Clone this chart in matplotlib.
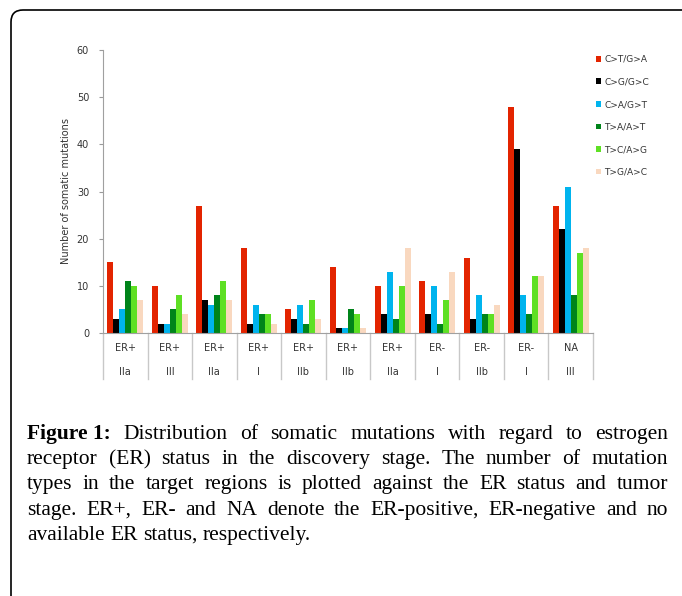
import numpy as np
import matplotlib
matplotlib.use("Agg")
import matplotlib.pyplot as plt
from matplotlib.patches import FancyBboxPatch
from matplotlib.transforms import blended_transform_factory

er_status = ["ER+", "ER+", "ER+", "ER+", "ER+", "ER+", "ER+", "ER-", "ER-", "ER-", "NA"]
stages = ["IIa", "III", "IIa", "I", "IIb", "IIb", "IIa", "I", "IIb", "I", "III"]

mutation_types = ["C>T/G>A", "C>G/G>C", "C>A/G>T", "T>A/A>T", "T>C/A>G", "T>G/A>C"]
ct_ga = [15, 10, 27, 18, 5, 14, 10, 11, 16, 48, 27]
cg_gc = [3, 2, 7, 2, 3, 1, 4, 4, 3, 39, 22]
ca_gt = [5, 2, 6, 6, 6, 1, 13, 10, 8, 8, 31]
ta_at = [11, 5, 8, 4, 2, 5, 3, 2, 4, 4, 8]
tc_ag = [10, 8, 11, 4, 7, 4, 10, 7, 4, 12, 17]
tg_ac = [7, 4, 7, 2, 3, 1, 18, 13, 6, 12, 18]

colors = ["#e32400", "#000000", "#00b4ee", "#00841a", "#5ee024", "#f9d8bf"]

caption_lines = [
    "Distribution of somatic mutations with regard to estrogen",
    "receptor (ER) status in the discovery stage. The number of mutation",
    "types in the target regions is plotted against the ER status and tumor",
    "stage. ER+, ER- and NA denote the ER-positive, ER-negative and no",
    "available ER status, respectively.",
]

W, H = 682, 596
fig = plt.figure(figsize=(W / 100, H / 100), dpi=100)

# rounded frame around the figure panel
frame = FancyBboxPatch((11 / 100, -0.5), 8, (H - 10) / 100 + 0.5,
                       boxstyle="round,pad=0,rounding_size=0.12",
                       transform=fig.dpi_scale_trans, fill=False,
                       edgecolor="black", linewidth=1.2)
fig.patches.append(frame)

ax = fig.add_axes([103 / W, (H - 333) / H, 490 / W, 283 / H])

series = [ct_ga, cg_gc, ca_gt, ta_at, tc_ag, tg_ac]
x = np.arange(len(er_status))
bw = 0.135
for i, (vals, c, name) in enumerate(zip(series, colors, mutation_types)):
    ax.bar(x + (i - 2.5) * bw, vals, bw, color=c, label=name, linewidth=0)

ax.set_xlim(-0.5, len(er_status) - 0.5)
ax.set_ylim(0, 60)
ax.set_yticks(range(0, 61, 10))
ax.tick_params(axis="y", labelsize=7, colors="#9a9a9a", labelcolor="#333333",
               length=3, pad=7)
ax.set_xticks([])
for s in ["top", "right"]:
    ax.spines[s].set_visible(False)
ax.spines["left"].set_color("#a0a0a0")
ax.spines["bottom"].set_color("#a0a0a0")
ax.set_ylabel("Number of somatic mutations", fontsize=7, color="#333333", labelpad=4)

trans = blended_transform_factory(ax.transData, ax.transAxes)
for b in np.arange(-0.5, len(er_status), 1.0):
    ax.plot([b, b], [0, -46 / 283], color="#c8c8c8", lw=1, transform=trans, clip_on=False)
for xi, er, st in zip(x, er_status, stages):
    ax.text(xi, -15 / 283, er, transform=trans, ha="center", va="center", fontsize=7, color="#333333")
    ax.text(xi, -39 / 283, st, transform=trans, ha="center", va="center", fontsize=7, color="#333333")

leg = ax.legend(loc="upper left", bbox_to_anchor=(596 / W, (H - 55) / H),
                bbox_transform=fig.transFigure, frameon=False, fontsize=6.5,
                handlelength=0.6, handleheight=0.6, handletextpad=0.3,
                labelspacing=1.5, borderaxespad=0, borderpad=0)
for t in leg.get_texts():
    t.set_color("#333333")

# justified caption
fs = 15.5
left, right = 27, 668
ys = [439, 464, 489, 515, 540]
renderer = fig.canvas.get_renderer()
for n, (line, y) in enumerate(zip(caption_lines, ys)):
    words = line.split(" ")
    items = []
    if n == 0:
        items.append(("Figure 1:", "bold"))
    items += [(w, "normal") for w in words]
    texts = []
    for w, weight in items:
        t = fig.text(0, 1 - y / H, w, fontsize=fs, family="Liberation Serif",
                     fontweight=weight, va="baseline", ha="left")
        texts.append(t)
    widths = [t.get_window_extent(renderer).width for t in texts]
    if n < len(caption_lines) - 1:
        gap = (right - left - sum(widths)) / (len(texts) - 1)
    else:
        gap = fs * 0.25 * 100 / 72
    xpos = left
    for t, wd in zip(texts, widths):
        t.set_x(xpos / W)
        xpos += wd + gap

fig.savefig("out.png", dpi=100)
